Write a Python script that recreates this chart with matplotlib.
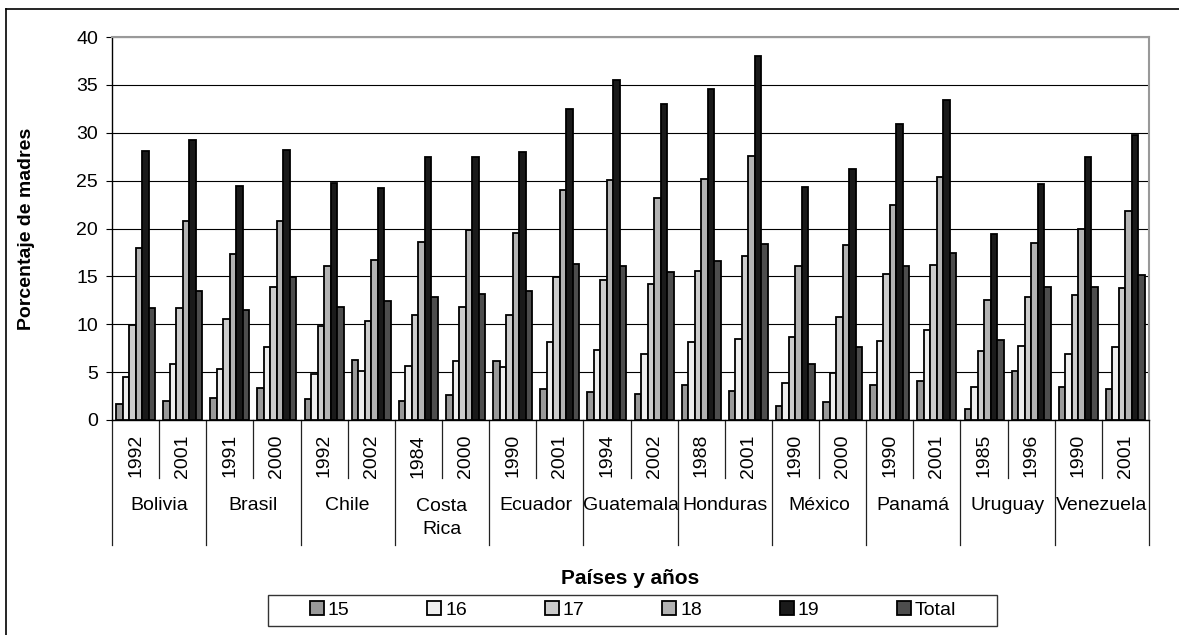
import matplotlib
matplotlib.use("Agg")
import matplotlib.pyplot as plt
import matplotlib.transforms as mtransforms
from matplotlib.lines import Line2D
from matplotlib.patches import Rectangle
import numpy as np

plt.rcParams["font.family"] = ["Liberation Sans", "DejaVu Sans"]

countries = ["Bolivia", "Brasil", "Chile", "Costa Rica", "Ecuador", "Guatemala",
             "Honduras", "México", "Panamá", "Uruguay", "Venezuela"]
years = ["1992", "2001", "1991", "2000", "1992", "2002", "1984", "2000", "1990", "2001",
         "1994", "2002", "1988", "2001", "1990", "2000", "1990", "2001", "1985", "1996",
         "1990", "2001"]

series_names = ["15", "16", "17", "18", "19", "Total"]
age_15 = [1.7, 2.0, 2.3, 3.3, 2.2, 6.3, 2.0, 2.6, 6.2, 3.2, 2.9,
          2.7, 3.7, 3.0, 1.5, 1.9, 3.7, 4.1, 1.2, 5.1, 3.4, 3.2]
age_16 = [4.5, 5.8, 5.3, 7.6, 4.8, 5.1, 5.6, 6.2, 5.5, 8.1, 7.3,
          6.9, 8.1, 8.5, 3.9, 4.9, 8.2, 9.4, 3.4, 7.7, 6.9, 7.6]
age_17 = [9.9, 11.7, 10.5, 13.9, 9.8, 10.3, 11.0, 11.8, 11.0, 14.9, 14.6,
          14.2, 15.6, 17.1, 8.7, 10.8, 15.3, 16.2, 7.2, 12.8, 13.1, 13.8]
age_18 = [18.0, 20.8, 17.3, 20.8, 16.1, 16.7, 18.6, 19.8, 19.5, 24.0, 25.1,
          23.2, 25.2, 27.6, 16.1, 18.3, 22.5, 25.4, 12.5, 18.5, 20.0, 21.8]
age_19 = [28.1, 29.2, 24.4, 28.2, 24.8, 24.2, 27.5, 27.5, 28.0, 32.5, 35.5,
          33.0, 34.6, 38.0, 24.3, 26.2, 30.9, 33.4, 19.4, 24.6, 27.5, 29.8]
total = [11.7, 13.5, 11.5, 14.9, 11.8, 12.4, 12.8, 13.2, 13.5, 16.3, 16.1,
         15.5, 16.6, 18.4, 5.8, 7.6, 16.1, 17.4, 8.4, 13.9, 13.9, 15.1]

series = [age_15, age_16, age_17, age_18, age_19, total]
colors = ["#999999", "#eeeeee", "#cccccc", "#b3b3b3", "#1a1a1a", "#4d4d4d"]

W, H = 1179, 635
FS = 14


def fy(py):
    # pixel row from the top -> figure fraction
    return 1 - py / H


fig = plt.figure(figsize=(W / 100, H / 100), dpi=100)
ax = fig.add_axes([112 / W, fy(420), 1037 / W, 383 / H])

x = np.arange(len(years))
width = 0.138
for k, (name, vals) in enumerate(zip(series_names, series)):
    ax.bar(x + (k - 2.5) * width, vals, width, color=colors[k], edgecolor="black",
           linewidth=1.3, label=name, zorder=3)

ax.set_xlim(-0.5, len(years) - 0.5)
ax.set_ylim(0, 40)
ax.set_yticks(range(0, 41, 5))
ax.yaxis.grid(True, color="black", linewidth=0.8, zorder=0)
ax.set_xticks([])
ax.tick_params(axis="y", labelsize=FS, length=4, direction="out", pad=6)
ax.spines["top"].set_color("#999999")
ax.spines["right"].set_color("#999999")
ax.spines["top"].set_linewidth(1.5)
ax.spines["right"].set_linewidth(1.5)
ax.spines["left"].set_linewidth(1.0)
ax.spines["bottom"].set_linewidth(1.0)
ax.set_ylabel("Porcentaje de madres", fontsize=FS, fontweight="bold")
ax.yaxis.set_label_coords((35 - 112) / 1037, 0.5)

# two-level category axis
trans = mtransforms.blended_transform_factory(ax.transData, fig.transFigure)
for b in range(len(years) + 1):
    bottom = 545 if b % 2 == 0 else 478
    ax.add_line(Line2D([b - 0.5, b - 0.5], [fy(420), fy(bottom)], transform=trans,
                       color="#222222", linewidth=0.9, clip_on=False))
for i, yr in enumerate(years):
    ax.text(i, fy(434), yr, transform=trans, rotation=90, ha="center", va="top",
            fontsize=FS)
for c, name in enumerate(countries):
    if " " in name:
        ax.text(2 * c + 0.5, fy(518), name.replace(" ", "\n"), transform=trans,
                ha="center", va="center", fontsize=FS, linespacing=1.4)
    else:
        ax.text(2 * c + 0.5, fy(506), name, transform=trans, ha="center", va="center",
                fontsize=FS)

fig.text(630 / W, fy(578), "Países y años", ha="center", va="center",
         fontsize=15, fontweight="bold")

# legend
handles, labels = ax.get_legend_handles_labels()
fig.legend(handles, labels, loc="center", bbox_to_anchor=(633 / W, fy(610)), ncol=6,
           frameon=False, fontsize=FS, handlelength=0.72, handleheight=0.72,
           handletextpad=0.2, columnspacing=4.0)
fig.add_artist(Rectangle((268 / W, fy(626)), 729 / W, 31 / H, fill=False,
                         edgecolor="#333333", linewidth=1.0, transform=fig.transFigure))

# outer frame (top and left edges)
fig.add_artist(Line2D([6 / W, 1.0], [fy(9), fy(9)], color="black", linewidth=1.2,
                      transform=fig.transFigure))
fig.add_artist(Line2D([6 / W, 6 / W], [fy(9), 0.0], color="black", linewidth=1.2,
                      transform=fig.transFigure))

fig.savefig("out.png", dpi=100)
